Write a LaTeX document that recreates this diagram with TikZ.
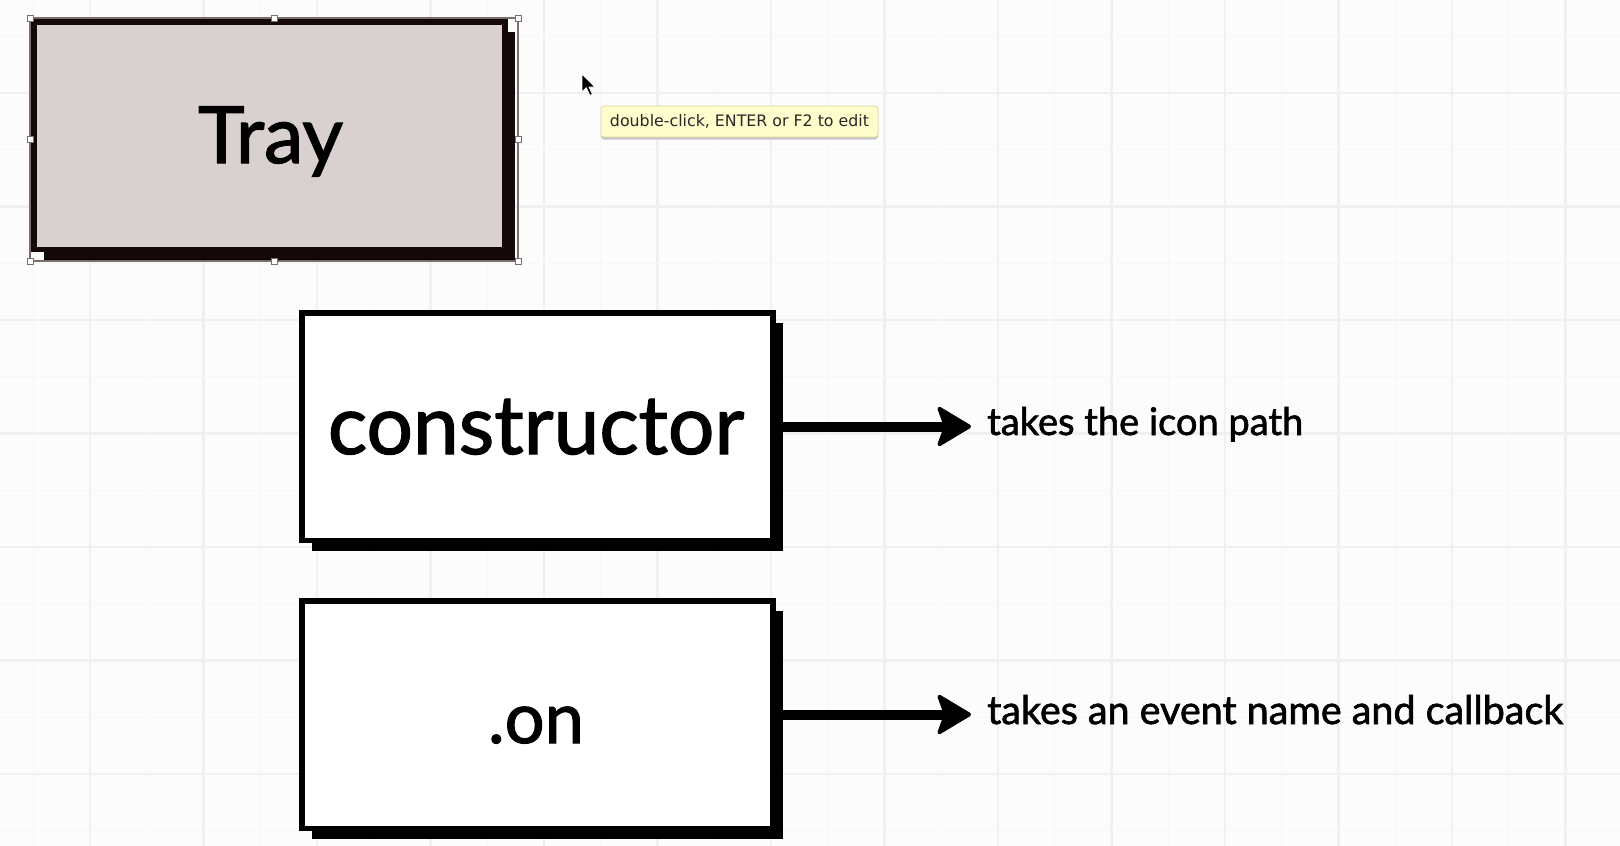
\documentclass[tikz,border=0pt]{standalone}
\usepackage{fontspec}
\setmainfont{Lato}
\newfontfamily\midfont{Lato}[FakeBold=1.6]
\newfontfamily\tipfont{DejaVu Sans}
\usetikzlibrary{arrows.meta,shadows}
\definecolor{bgc}{RGB}{252,252,253}
\definecolor{gridmaj}{RGB}{240,240,243}
\definecolor{gridmin}{RGB}{247,247,249}
\definecolor{trayfill}{RGB}{217,209,207}
\definecolor{traydark}{RGB}{20,8,8}
\definecolor{tipfill}{RGB}{255,253,204}
\definecolor{tipline}{RGB}{220,214,160}
\definecolor{tiptext}{RGB}{40,40,40}
\definecolor{selc}{RGB}{125,110,108}
\begin{document}
\begin{tikzpicture}[x=1pt,y=-1pt,
  box/.style={draw=black, line width=5.5pt, inner sep=0pt, fill=white,
    minimum width=471pt, minimum height=227.5pt,
    general shadow={fill=black, shadow xshift=10pt, shadow yshift=-10.5pt}},
  big/.style={anchor=base, inner sep=0pt, text=black, font=\midfont},
  lbl/.style={anchor=base west, inner sep=0pt, text=black, font=\midfont},
  conn/.style={line width=10pt, -{Stealth[length=37pt,width=44pt,inset=8pt,round,line width=4pt]}},
  handle/.style={draw=selc, fill=white, line width=1pt, minimum size=6pt, inner sep=0pt},
  majline/.style={draw=gridmaj, line width=2.2pt},
  minline/.style={draw=gridmin, line width=1.4pt}]
\useasboundingbox (0,0) rectangle (1620,846);
\fill[bgc] (0,0) rectangle (1620,846);
% grid
\foreach \i in {0,...,27} {
  \pgfmathsetmacro{\xx}{33.25+56.75*\i}
  \pgfmathparse{int(mod(\i,2))}
  \ifnum\pgfmathresult=1
    \draw[majline] (\xx,0) -- (\xx,846);
  \else
    \draw[minline] (\xx,0) -- (\xx,846);
  \fi
}
\foreach \j in {0,...,14} {
  \pgfmathsetmacro{\yy}{36.25+56.75*\j}
  \pgfmathparse{int(mod(\j,2))}
  \ifnum\pgfmathresult=1
    \draw[majline] (0,\yy) -- (1620,\yy);
  \else
    \draw[minline] (0,\yy) -- (1620,\yy);
  \fi
}
% selection outline
\draw[selc, line width=1.2pt] (30,18) rectangle (518,261);
% boxes
\node[box, fill=trayfill, draw=traydark, general shadow={fill=traydark, shadow xshift=10pt, shadow yshift=-10pt}] (tray) at (269.25,135.5) {};
\node[box] (cbox) at (537.5,426.5) {};
\node[box] (obox) at (537.5,714.5) {};
% handles
\node[handle] (h1) at (30,18) {};
\node[handle] (h2) at (274,18) {};
\node[handle] (h3) at (518,18) {};
\node[handle] (h4) at (30,139.5) {};
\node[handle] (h5) at (518,139.5) {};
\node[handle] (h6) at (30,261) {};
\node[handle] (h7) at (274,261) {};
\node[handle] (h8) at (518,261) {};
% texts
\node[big] (trayt) at (270.5,163) {\resizebox{145pt}{!}{Tray}};
\node[big] (ctext) at (536,454) {\resizebox{416pt}{!}{constructor}};
\node[big] (otext) at (536,743) {\resizebox{96pt}{!}{.on}};
\node[lbl] (t1) at (987,435) {\resizebox{316pt}{!}{takes the icon path}};
\node[lbl] (t2) at (987,724) {\resizebox{576pt}{!}{takes an event name and callback}};
% connectors
\coordinate (a1) at (971,426.5);
\coordinate (a2) at (971,714.5);
\draw[conn] (cbox.east) -- (cbox.east -| a1);
\draw[conn] (obox.east) -- (obox.east -| a2);
% tooltip
\node[draw=tipline, fill=tipfill, rounded corners=3pt, line width=0.8pt,
  minimum width=277pt, minimum height=31pt, inner sep=0pt,
  general shadow={fill=black!22, shadow xshift=0pt, shadow yshift=-2.5pt}]
  (tip) at (739.5,121.5) {\color{tiptext}\tipfont\resizebox{259pt}{!}{double-click, ENTER or F2 to edit}};
% cursor
\fill[black, draw=white, line width=0.8pt, line join=round] (582,74) -- ++(0,18) -- ++(4.3,-4.3) -- ++(3.6,7.8) -- ++(2.6,-1.2) -- ++(-3.5,-7.3) -- ++(6,0) -- cycle;
\end{tikzpicture}
\end{document}
